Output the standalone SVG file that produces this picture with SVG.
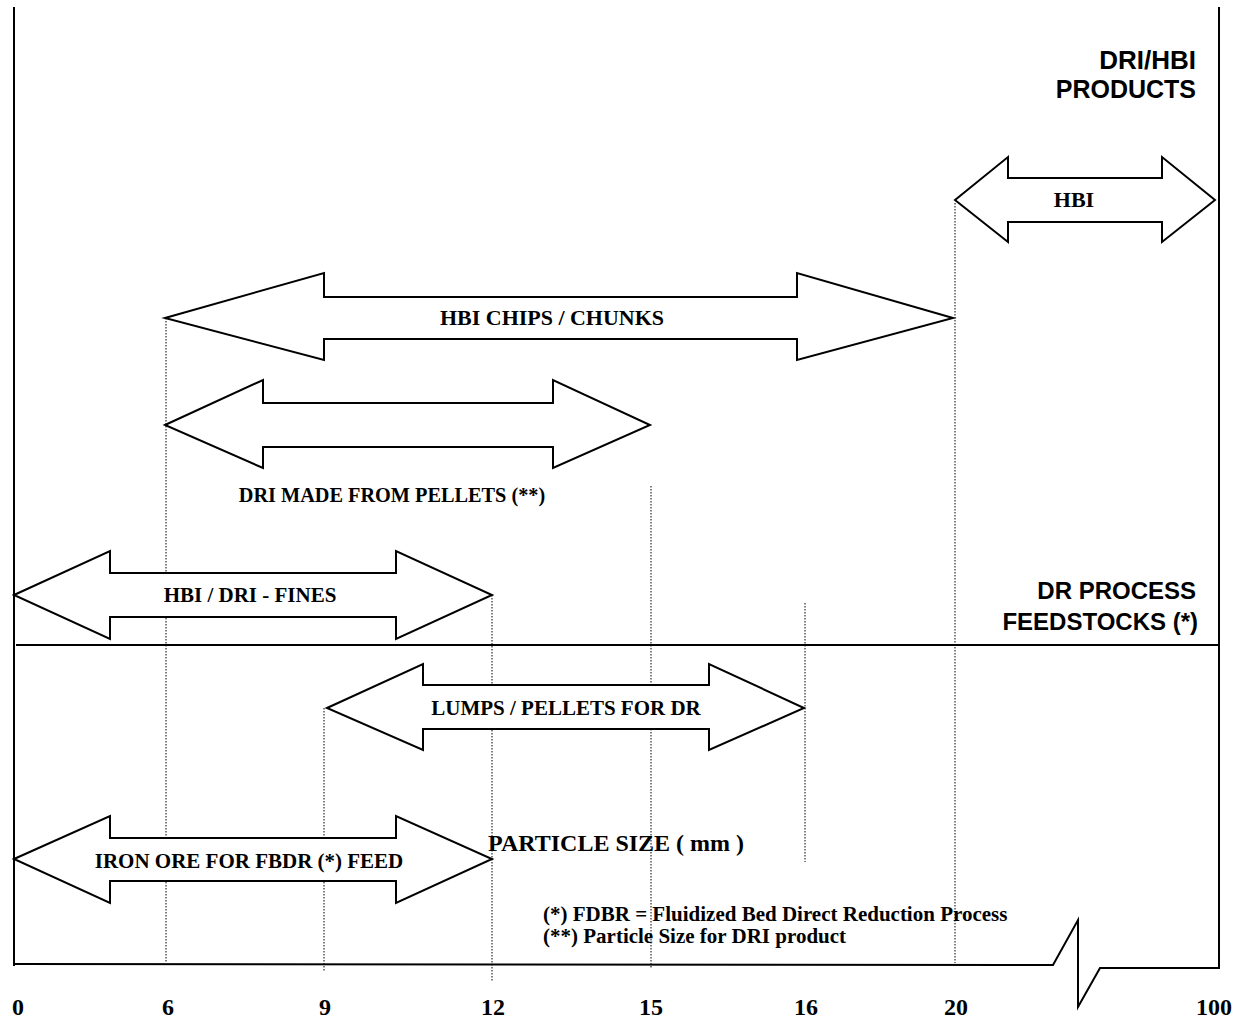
<svg xmlns="http://www.w3.org/2000/svg" width="1241" height="1018" viewBox="0 0 1241 1018">
  <style>
    .frame { fill: none; stroke: #000; stroke-width: 2; }
    .guide { fill: none; stroke: #000; stroke-width: 1; stroke-dasharray: 1.5 1.5; }
    .band { fill: #fff; stroke: #000; stroke-width: 2; stroke-linejoin: miter; }
    .lbl { font-family: "Liberation Serif", "Times New Roman", serif; font-weight: bold; font-size: 21px; text-anchor: middle; fill: #000; }
    .head { font-family: "Liberation Sans", Arial, sans-serif; font-weight: bold; font-size: 24px; text-anchor: end; fill: #000; }
    .tick { font-family: "Liberation Serif", "Times New Roman", serif; font-weight: bold; font-size: 24px; text-anchor: middle; fill: #000; }
    .note { font-family: "Liberation Serif", "Times New Roman", serif; font-weight: bold; font-size: 21px; fill: #000; }
    .axis { font-family: "Liberation Serif", "Times New Roman", serif; font-weight: bold; font-size: 24px; fill: #000; }
  </style>

  <!-- frame, axis with break, and section divider -->
  <g id="frame">
    <line class="frame" x1="14" y1="7" x2="14" y2="966"/>
    <line class="frame" x1="1219" y1="7" x2="1219" y2="969"/>
    <line class="frame" x1="16" y1="645" x2="1219" y2="645"/>
    <polyline class="frame" points="15,964 1053,965 1078,920 1078,1007 1100,968 1219,968"/>
  </g>

  <!-- dotted guide lines at the size marks -->
  <g id="guides">
    <line class="guide" x1="166" y1="318" x2="166" y2="963"/>
    <line class="guide" x1="324" y1="708" x2="324" y2="972"/>
    <line class="guide" x1="492" y1="595" x2="492" y2="982"/>
    <line class="guide" x1="651" y1="486" x2="651" y2="968"/>
    <line class="guide" x1="805" y1="603" x2="805" y2="862"/>
    <line class="guide" x1="955" y1="203" x2="955" y2="963"/>
  </g>

  <!-- size ranges drawn as double-headed block arrows -->
  <g id="connectors">
    <g id="hbi">
      <polygon class="band" points="955,200 1008,157 1008,178 1162,178 1162,157 1215,200 1162,242 1162,222 1008,222 1008,242"/>
      <text class="lbl" x="1074" y="207" style="font-size:22px">HBI</text>
    </g>
    <g id="hbi-chips">
      <polygon class="band" points="165,318 324,273 324,297 797,297 797,273 953,318 797,360 797,339 324,339 324,360"/>
      <text class="lbl" x="552" y="325" textLength="224" lengthAdjust="spacingAndGlyphs">HBI CHIPS / CHUNKS</text>
    </g>
    <g id="dri-pellets">
      <polygon class="band" points="165,425 263,380 263,403 553,403 553,380 650,425 553,468 553,447 263,447 263,468"/>
      <text class="lbl" x="392" y="502" style="font-size:20.3px">DRI MADE FROM PELLETS (**)</text>
    </g>
    <g id="fines">
      <polygon class="band" points="14,595 110,551 110,573 396,573 396,551 492,595 396,639 396,617 110,617 110,639"/>
      <text class="lbl" x="250" y="602">HBI / DRI - FINES</text>
    </g>
    <g id="lumps">
      <polygon class="band" points="327,708 423,664 423,685 709,685 709,664 804,708 709,750 709,729 423,729 423,750"/>
      <text class="lbl" x="566" y="715">LUMPS / PELLETS FOR DR</text>
    </g>
    <g id="iron-ore">
      <polygon class="band" points="14,859 110,816 110,838 396,838 396,816 492,859 396,903 396,881 110,881 110,903"/>
      <text class="lbl" x="249" y="868">IRON ORE FOR FBDR (*) FEED</text>
    </g>
  </g>

  <!-- section headings -->
  <g id="headings">
    <text class="head" x="1196" y="69" style="font-size:26px">DRI/HBI</text>
    <text class="head" x="1196" y="98" style="font-size:25px">PRODUCTS</text>
    <text class="head" x="1196" y="599">DR PROCESS</text>
    <text class="head" x="1198" y="630">FEEDSTOCKS  (*)</text>
  </g>

  <!-- axis title and footnotes -->
  <g id="notes">
    <text class="axis" x="488" y="851">PARTICLE SIZE ( mm )</text>
    <text class="note" x="543" y="921">(*) FDBR = Fluidized Bed Direct Reduction Process</text>
    <text class="note" x="543" y="943">(**) Particle Size for DRI product</text>
  </g>

  <!-- axis values -->
  <g id="ticks">
    <text class="tick" x="18" y="1015">0</text>
    <text class="tick" x="168" y="1015">6</text>
    <text class="tick" x="325" y="1015">9</text>
    <text class="tick" x="493" y="1015">12</text>
    <text class="tick" x="651" y="1015">15</text>
    <text class="tick" x="806" y="1015">16</text>
    <text class="tick" x="956" y="1015">20</text>
    <text class="tick" x="1214" y="1015">100</text>
  </g>
</svg>
